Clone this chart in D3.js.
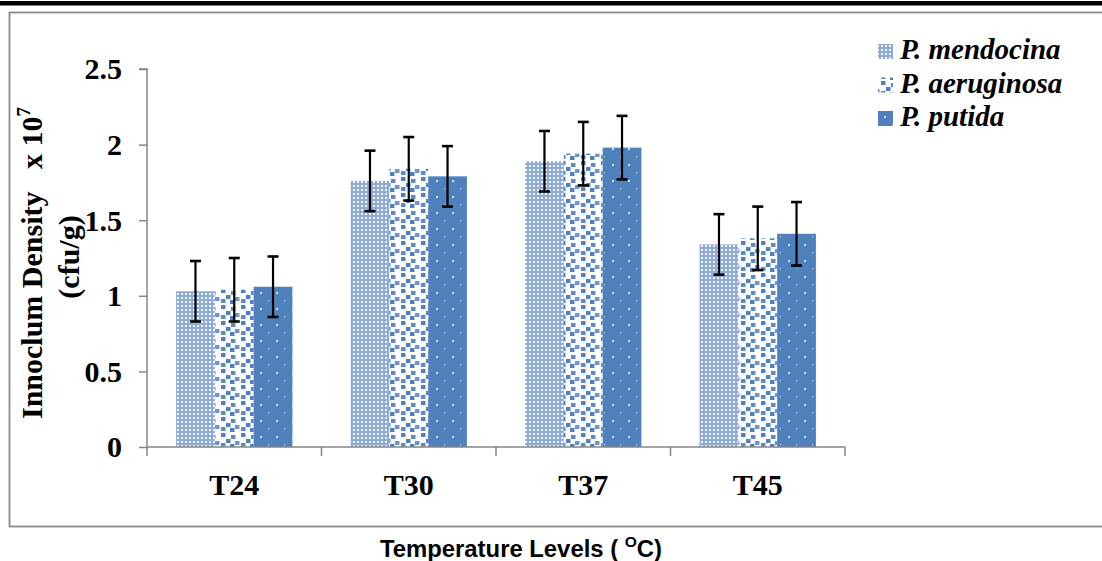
<!DOCTYPE html>
<html>
<head>
<meta charset="utf-8">
<script src="https://cdn.jsdelivr.net/npm/d3@7"></script>
<style>
  html, body { margin: 0; padding: 0; background: #fff; }
  svg { display: block; }
</style>
</head>
<body>
<script>
// ---- data ----
const categories = ["T24", "T30", "T37", "T45"];
const seriesNames = ["P. mendocina", "P. aeruginosa", "P. putida"];
const mendocina = [1.03, 1.76, 1.89, 1.34];
const aeruginosa = [1.04, 1.84, 1.94, 1.38];
const putida = [1.06, 1.79, 1.98, 1.41];
const errMendocina = [0.20, 0.20, 0.20, 0.20];
const errAeruginosa = [0.21, 0.21, 0.21, 0.21];
const errPutida = [0.20, 0.20, 0.21, 0.21];
const yTicks = [0, 0.5, 1, 1.5, 2, 2.5];
const yTickLabels = ["0", "0.5", "1", "1.5", "2", "2.5"];

const values = [mendocina, aeruginosa, putida];
const errors = [errMendocina, errAeruginosa, errPutida];
const patternIds = ["pat-mend", "pat-aeru", "pat-puti"];

const W = 1102, H = 561;
const svg = d3.select("body").append("svg").attr("width", W).attr("height", H);
const defs = svg.append("defs");
const BLUE = "#4f81bd";

// pattern: fine checker (mendocina)
const p1 = defs.append("pattern").attr("id", "pat-mend").attr("patternUnits", "userSpaceOnUse")
  .attr("width", 4).attr("height", 4);
p1.append("rect").attr("width", 4).attr("height", 4).attr("fill", "#8eabd8");
p1.append("rect").attr("x", 1).attr("y", 1).attr("width", 2).attr("height", 2).attr("fill", "#f2f6fb");

// pattern: confetti (aeruginosa)
const p2 = defs.append("pattern").attr("id", "pat-aeru").attr("patternUnits", "userSpaceOnUse")
  .attr("width", 20).attr("height", 16);
p2.append("rect").attr("width", 20).attr("height", 16).attr("fill", "#ffffff");
[[1,1,"#4f81bd"],[11,3,"#5b8ac4"],[6,7,"#4f81bd"],[15,9,"#6d97cc"],[1,11,"#5b8ac4"],[10,12,"#4f81bd"]]
  .forEach(([x,y,c]) => p2.append("rect").attr("x", x).attr("y", y).attr("width", 4.5).attr("height", 4)
    .attr("fill", c));

// pattern: solid with tiny dots (putida)
const p3 = defs.append("pattern").attr("id", "pat-puti").attr("patternUnits", "userSpaceOnUse")
  .attr("width", 16).attr("height", 16);
p3.append("rect").attr("width", 16).attr("height", 16).attr("fill", BLUE);
p3.append("rect").attr("x", 4).attr("y", 4).attr("width", 2).attr("height", 2).attr("fill", "#d3def0");
p3.append("rect").attr("x", 12).attr("y", 12).attr("width", 1.2).attr("height", 1.2).attr("fill", "#b5c8e6");

// top black rule
svg.append("rect").attr("x", 0).attr("y", 1).attr("width", W).attr("height", 4.5).attr("fill", "#000");
// chart frame
svg.append("rect").attr("x", 9.5).attr("y", 12.5).attr("width", W + 10).attr("height", 514)
  .attr("fill", "none").attr("stroke", "#8a8a8a").attr("stroke-width", 1.8);

// scales
const x0 = d3.scaleBand().domain(categories).range([147, 845]).paddingInner(0).paddingOuter(0);
const bw = x0.bandwidth();
const groupOff = bw * 0.75 / 4.5;
const x1 = d3.scaleBand().domain(d3.range(3)).range([groupOff, bw - groupOff]);
const y = d3.scaleLinear().domain([0, 2.5]).range([447, 69]);

const serif = "'Liberation Serif', 'Times New Roman', Times, serif";

// bars
const g = svg.append("g");
categories.forEach((c, ci) => {
  values.forEach((vals, si) => {
    g.append("rect")
      .attr("x", x0(c) + x1(si))
      .attr("y", y(vals[ci]))
      .attr("width", x1.bandwidth())
      .attr("height", y(0) - y(vals[ci]))
      .attr("fill", `url(#${patternIds[si]})`);
  });
});

// axes
const axisColor = "#868686";
const yAxis = svg.append("g").attr("transform", "translate(147,0)")
  .call(d3.axisLeft(y).tickValues(yTicks).tickSize(8).tickFormat((d, i) => yTickLabels[i]));
yAxis.select(".domain").attr("stroke", axisColor).attr("stroke-width", 1.5).attr("d", `M-8,${y(2.5)}H0V${y(0)}`);
yAxis.selectAll(".tick line").attr("stroke", axisColor).attr("stroke-width", 1.5);
yAxis.selectAll(".tick text").attr("x", -25).attr("dy", "0.33em")
  .style("font-family", serif).style("font-weight", "bold").style("font-size", "30px").attr("fill", "#000");

const xAxis = svg.append("g").attr("transform", `translate(0,${y(0)})`)
  .call(d3.axisBottom(x0).tickSize(0).tickPadding(0));
xAxis.select(".domain").attr("stroke", axisColor).attr("stroke-width", 1.5).attr("d", `M147,0H845`);
xAxis.selectAll(".tick text").attr("y", 48).attr("dy", 0)
  .style("font-family", serif).style("font-weight", "bold").style("font-size", "30px").attr("fill", "#000");
// category boundary ticks
const bounds = categories.map(c => x0(c)).concat([x0.range()[1]]);
xAxis.selectAll(".bnd").data(bounds).enter().append("line").attr("class", "bnd")
  .attr("x1", d => d).attr("x2", d => d).attr("y1", 0).attr("y2", 9)
  .attr("stroke", axisColor).attr("stroke-width", 1.5);

// error bars
const eg = svg.append("g").attr("stroke", "#000");
categories.forEach((c, ci) => {
  values.forEach((vals, si) => {
    const cx = x0(c) + x1(si) + x1.bandwidth() / 2;
    const hi = y(vals[ci] + errors[si][ci]);
    const lo = y(vals[ci] - errors[si][ci]);
    eg.append("line").attr("x1", cx).attr("x2", cx).attr("y1", hi).attr("y2", lo).attr("stroke-width", 2.2);
    [hi, lo].forEach(yy => eg.append("line").attr("x1", cx - 5.5).attr("x2", cx + 5.5)
      .attr("y1", yy).attr("y2", yy).attr("stroke-width", 2.6));
  });
});

// y title
const yt1 = svg.append("text").attr("transform", "translate(42,263) rotate(-90)")
  .attr("text-anchor", "middle").style("font-family", serif).style("font-weight", "bold")
  .style("font-size", "30px").attr("fill", "#000");
yt1.append("tspan").text("Innoclum Density \u00a0 x 10");
yt1.append("tspan").attr("dy", -12).style("font-size", "19px").text("7");
svg.append("text").attr("transform", "translate(79,257) rotate(-90)")
  .attr("text-anchor", "middle").style("font-family", serif).style("font-weight", "bold")
  .style("font-size", "30px").attr("fill", "#000").text("(cfu/g)");

// x title
const xt = svg.append("text").attr("x", 380).attr("y", 557)
  .style("font-family", "'Liberation Sans Narrow', 'Liberation Sans', Arial, sans-serif").style("font-weight", "bold")
  .style("font-size", "23px").attr("fill", "#000")
  .attr("textLength", 282).attr("lengthAdjust", "spacingAndGlyphs");
xt.append("tspan").text("Temperature Levels ( ");
xt.append("tspan").attr("dy", -10).style("font-size", "15px").text("O");
xt.append("tspan").attr("dy", 10).text("C)");

// legend
const lg = svg.append("g");
seriesNames.forEach((name, i) => {
  const by = 59 + i * 33.5;
  lg.append("rect").attr("x", 878).attr("y", by - 15).attr("width", 15).attr("height", 15)
    .attr("fill", `url(#${patternIds[i]})`);
  lg.append("text").attr("x", 900).attr("y", by)
    .style("font-family", serif).style("font-weight", "bold").style("font-style", "italic")
    .style("font-size", "29px").attr("fill", "#000").text(name);
});
</script>
</body>
</html>
